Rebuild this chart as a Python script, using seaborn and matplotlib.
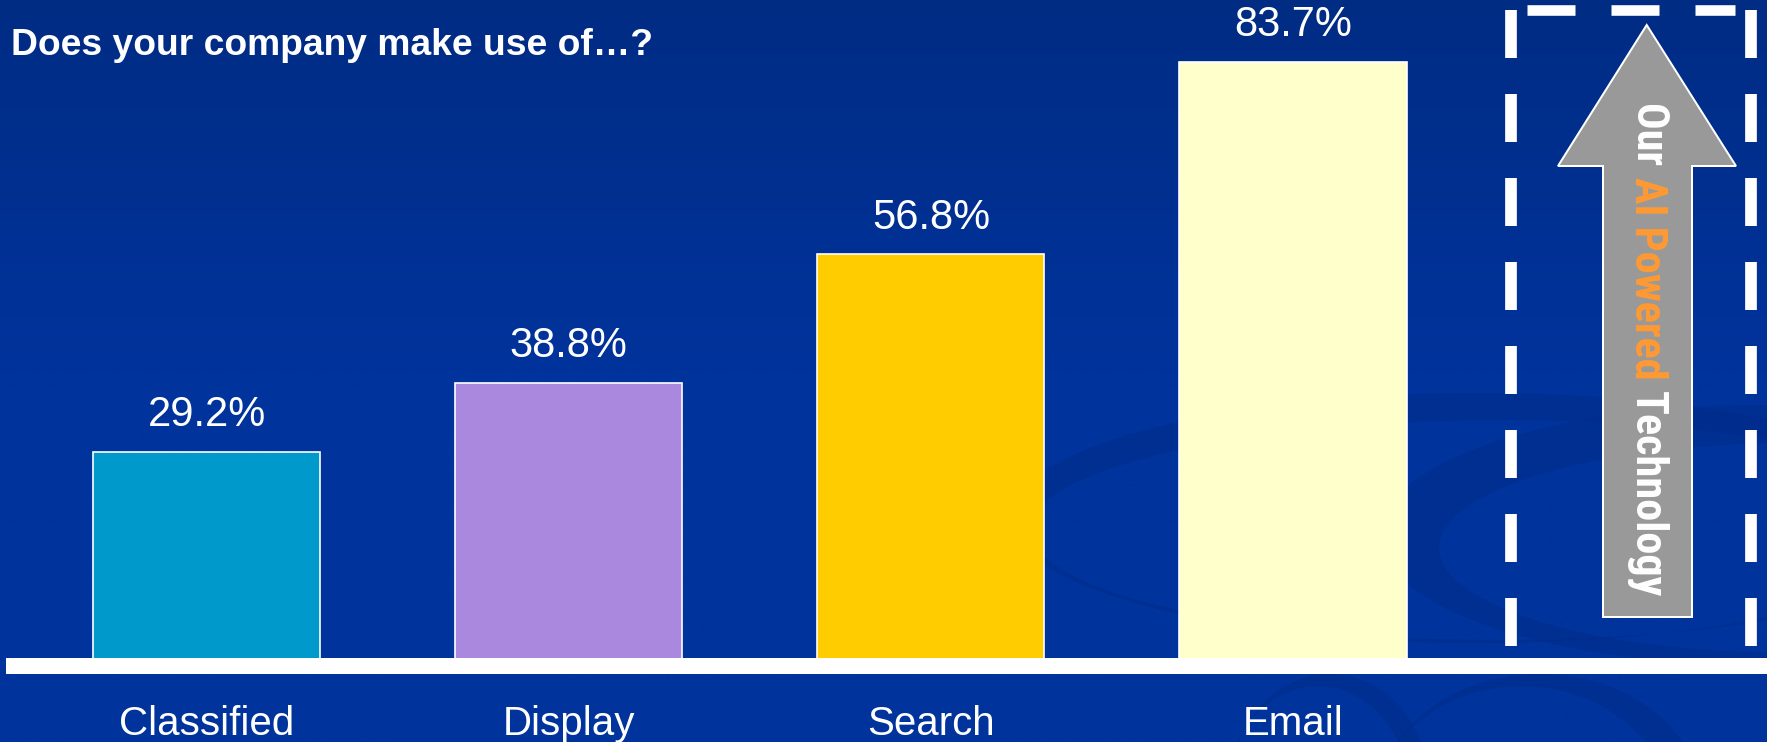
import numpy as np
import matplotlib
matplotlib.use("Agg")
import matplotlib.pyplot as plt
from matplotlib.patches import Polygon, Rectangle, PathPatch
from matplotlib.path import Path
from matplotlib.lines import Line2D
from matplotlib import font_manager
import seaborn as sns

# ---------------- data ----------------
categories = ["Classified", "Display", "Search", "Email"]
values = [29.2, 38.8, 56.8, 83.7]
value_labels = ["29.2%", "38.8%", "56.8%", "83.7%"]
bar_colors = ["#0099CC", "#AA88DD", "#FFCC00", "#FFFFCC"]
title = "Does your company make use of…?"
arrow_parts = ["Our", "AI Powered", "Technology"]
arrow_colors = ["white", "#FF9933", "white"]

# ---------------- setup ----------------
W, H = 1767, 742
DPI = 100
PT = 72.0 / DPI  # points per pixel

sns.set_theme(style="white")
plt.rcParams["font.family"] = ["Liberation Sans", "DejaVu Sans"]
plt.rcParams["lines.scale_dashes"] = False

fig = plt.figure(figsize=(W / DPI, H / DPI), dpi=DPI)

# ---------------- background ----------------
bg = fig.add_axes([0, 0, 1, 1], zorder=0)
bg.set_xlim(0, W)
bg.set_ylim(H, 0)
bg.axis("off")
c_top = np.array([0x01, 0x2C, 0x84]) / 255
c_mid = np.array([0x00, 0x33, 0x9C]) / 255
tt = np.linspace(0, 1, 256)[:, None]
ff = np.clip(tt / 0.5, 0, 1)
grad = c_top * (1 - ff) + c_mid * ff
img = np.repeat(grad[:, None, :], 2, axis=1)
bg.imshow(img, extent=(0, W, H, 0), aspect="auto", interpolation="bilinear")


def ellipse_pts(cx, cy, a, b, n=200, reverse=False):
    th = np.linspace(0, 2 * np.pi, n)
    if reverse:
        th = th[::-1]
    return np.column_stack([cx + a * np.cos(th), cy + b * np.sin(th)])


def crescent(outer, inner, color, alpha):
    o = ellipse_pts(*outer)
    i = ellipse_pts(*inner, reverse=True)
    verts = np.vstack([o, o[:1], i, i[:1]])
    codes = ([Path.MOVETO] + [Path.LINETO] * (len(o) - 1) + [Path.CLOSEPOLY]
             + [Path.MOVETO] + [Path.LINETO] * (len(i) - 1) + [Path.CLOSEPOLY])
    bg.add_patch(PathPatch(Path(verts, codes), facecolor=color,
                           edgecolor="none", alpha=alpha))


swoosh = "#002C8A"
crescent((1480, 518, 470, 125), (1500, 530, 470, 110), swoosh, 0.55)
crescent((1760, 535, 380, 130), (1790, 548, 351, 105), swoosh, 0.55)
crescent((1330, 790, 100, 116), (1318, 796, 92, 110), swoosh, 0.55)
crescent((1540, 810, 165, 136), (1522, 816, 150, 130), swoosh, 0.55)

# ---------------- bars ----------------
y_base_px = 660.6
ppu = 7.155
x0_px = 206.7
spacing_px = 362.1

ax = fig.add_axes([0, (H - y_base_px) / H, 1, y_base_px / H], zorder=1)
ax.patch.set_alpha(0)
sns.barplot(x=categories, y=values, hue=categories, palette=bar_colors,
            saturation=1, width=0.627, edgecolor="white", linewidth=1.2,
            legend=False, ax=ax)
ax.set_xlim(-x0_px / spacing_px, (W - x0_px) / spacing_px)
ax.set_ylim(0, y_base_px / ppu)
if len(ax.containers) == len(value_labels):
    for c, lab in zip(ax.containers, value_labels):
        ax.bar_label(c, labels=[lab], padding=12, color="white", fontsize=30)
else:
    ax.bar_label(ax.containers[0], labels=value_labels, padding=12,
                 color="white", fontsize=30)
ax.set_yticks([])
ax.set_xlabel("")
ax.set_ylabel("")
ax.tick_params(axis="x", length=0, pad=32, labelsize=29, labelcolor="white")
for s in ax.spines.values():
    s.set_visible(False)
ax.grid(False)

# ---------------- decorations ----------------
deco = fig.add_axes([0, 0, 1, 1], zorder=2)
deco.set_xlim(0, W)
deco.set_ylim(H, 0)
deco.axis("off")
deco.patch.set_alpha(0)

# white baseline band
deco.add_patch(Rectangle((6, 657.7), W - 6, 16.3, facecolor="white", edgecolor="none"))

# title
deco.text(11, 55, title, fontsize=26.8, fontweight="bold", color="white",
          ha="left", va="baseline")

# dashed box
dash = (48 * PT, 36 * PT)
for xs, ys, lw in [((1511, 1511), (10, 657), 11.7),
                   ((1751, 1751), (10, 657), 11.7),
                   ((1527, 1735), (10.3, 10.3), 10.6)]:
    ln = Line2D(xs, ys, color="white", lw=lw * PT, solid_capstyle="butt",
                dash_capstyle="butt", linestyle=(0, dash))
    deco.add_line(ln)

# arrow
arrow_pts = [(1603, 617), (1603, 166), (1558, 166), (1646.7, 25),
             (1736, 166), (1692, 166), (1692, 617)]
deco.add_patch(Polygon(arrow_pts, closed=True, facecolor="#999999",
                       edgecolor="white", lw=2 * PT, joinstyle="miter"))

# arrow text (vertical, multi-coloured)
names = {f.name for f in font_manager.fontManager.ttflist}
afam, astretch = "DejaVu Sans", "condensed"
for cand in ["Roboto Condensed", "Liberation Sans Narrow", "Open Sans Condensed"]:
    if cand in names:
        afam, astretch = cand, "normal"
        break

renderer = fig.canvas.get_renderer()
fs0 = 30
def measure(s, fs):
    t = deco.text(0, 0, s, fontsize=fs, rotation=-90, fontweight="bold",
                  family=[afam, "DejaVu Sans"], fontstretch=astretch)
    bb = t.get_window_extent(renderer)
    t.remove()
    return bb.height

full_len = measure(" ".join(arrow_parts), fs0)
part_lens = [measure(p, fs0) for p in arrow_parts]
gap0 = (full_len - sum(part_lens)) / (len(arrow_parts) - 1)
target_len = 493.0
scale = target_len / full_len
fs = fs0 * scale
y_cur = 104.0
for p, col, L in zip(arrow_parts, arrow_colors, part_lens):
    deco.text(1647, y_cur, p, fontsize=fs, rotation=-90, fontweight="bold",
              family=[afam, "DejaVu Sans"], fontstretch=astretch,
              color=col, ha="center", va="top")
    y_cur += L * scale + gap0 * scale

fig.savefig("out.png", dpi=DPI)
